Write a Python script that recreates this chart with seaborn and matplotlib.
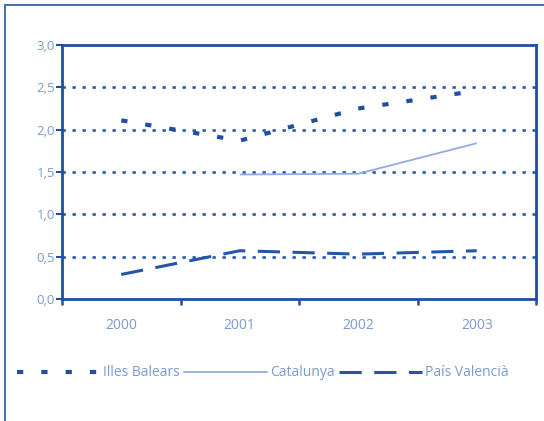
import numpy as np
import pandas as pd
import matplotlib
matplotlib.use("Agg")
import matplotlib.pyplot as plt
from matplotlib.lines import Line2D
import seaborn as sns

years = [2000, 2001, 2002, 2003]
illes_balears = [2.11, 1.87, 2.25, 2.46]
catalunya = [np.nan, 1.47, 1.48, 1.84]
pais_valencia = [0.29, 0.57, 0.53, 0.57]
series_names = ["Illes Balears", "Catalunya", "País Valencià"]
y_tick_labels = ["0,0", "0,5", "1,0", "1,5", "2,0", "2,5", "3,0"]

df = pd.DataFrame({
    "any": years * 3,
    "valor": illes_balears + catalunya + pais_valencia,
    "zona": [series_names[0]] * 4 + [series_names[1]] * 4 + [series_names[2]] * 4,
}).dropna()

sns.set_theme(style="white")
plt.rcParams["font.family"] = ["Open Sans", "DejaVu Sans"]
plt.rcParams["lines.scale_dashes"] = False

dark = "#1f4f9f"
light = "#8fade0"
label_col = "#7a9ad0"

fig = plt.figure(figsize=(5.44, 4.21), dpi=100)
ax = fig.add_axes([62 / 544, 1 - 299 / 421, (536 - 62) / 544, (299 - 45) / 421])

balears_dash = (4.5, 13)
valencia_dash = (16, 9)
palette = {series_names[0]: dark, series_names[1]: light, series_names[2]: "#2356a8"}
dashes = {series_names[0]: balears_dash, series_names[1]: "", series_names[2]: valencia_dash}
sns.lineplot(data=df, x="any", y="valor", hue="zona", style="zona",
             palette=palette, dashes=dashes, hue_order=series_names,
             style_order=series_names, ax=ax, legend=False, zorder=3)

widths = {series_names[0]: 3.0, series_names[1]: 1.3, series_names[2]: 2.2}
for line, name in zip(ax.get_lines(), series_names):
    line.set_linewidth(widths[name])
    line.set_solid_capstyle("butt")
    line.set_dash_capstyle("butt")

# dotted horizontal guides
for v in [0.5, 1.0, 1.5, 2.0, 2.5]:
    ax.axhline(v, color="#2659aa", lw=1.9, linestyle=(0, (2.4, 4.8)), zorder=1)

ax.set_xlim(1999.5, 2003.5)
ax.set_ylim(0, 3.0)
ax.set_yticks(np.arange(0, 3.01, 0.5))
ax.set_yticklabels(y_tick_labels)
ax.set_xticks(years)
ax.set_xticklabels([str(y) for y in years])
ax.set_xticks([1999.5, 2000.5, 2001.5, 2002.5, 2003.5], minor=True)
ax.tick_params(axis="x", which="major", length=0, pad=14, labelsize=10, labelcolor=label_col)
ax.tick_params(axis="x", which="minor", length=4, width=1.8, color=dark, direction="out", bottom=True)
ax.tick_params(axis="y", length=4, width=1.5, color=dark, direction="out", left=True,
               labelsize=9.5, labelcolor=label_col, pad=1)
ax.set_xlabel("")
ax.set_ylabel("")
for s in ax.spines.values():
    s.set_visible(True)
    s.set_color(dark)
    s.set_linewidth(2.0)

handles = [
    Line2D([], [], color=dark, lw=3.0, linestyle=(0, balears_dash)),
    Line2D([], [], color=light, lw=1.3),
    Line2D([], [], color="#2356a8", lw=2.2, linestyle=(0, valencia_dash)),
]
leg = fig.legend(handles, series_names, loc="center", bbox_to_anchor=(0.483, 1 - 373 / 421),
                 ncol=3, frameon=False, fontsize=10, handlelength=6.0,
                 handletextpad=0.2, columnspacing=0.3, borderaxespad=0)
for t in leg.get_texts():
    t.set_color(label_col)

# outer frame on left and top
border = "#3c6bb8"
fig.add_artist(Line2D([4.5 / 544, 4.5 / 544], [0, 1 - 5 / 421], color=border, lw=1.4,
                      transform=fig.transFigure))
fig.add_artist(Line2D([4.5 / 544, 1], [1 - 5 / 421, 1 - 5 / 421], color=border, lw=1.4,
                      transform=fig.transFigure))

fig.savefig("out.png", dpi=100)
